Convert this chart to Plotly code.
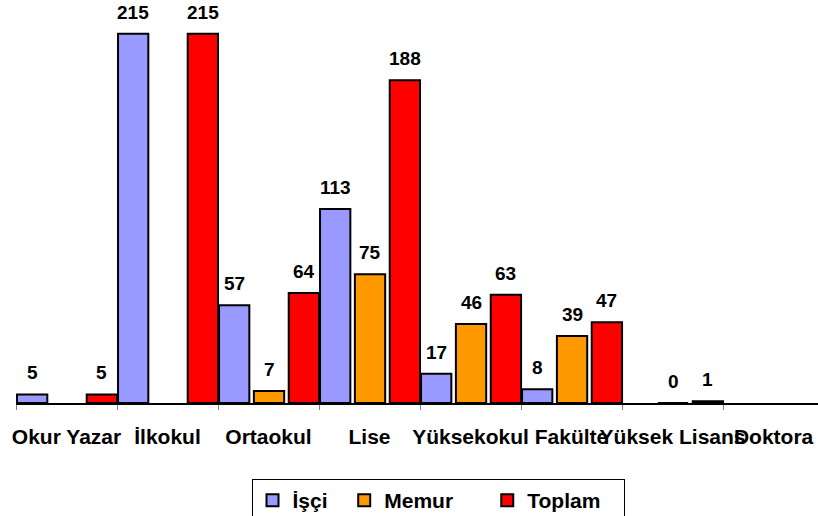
import plotly.graph_objects as go

categories = ["Okur Yazar", "İlkokul", "Ortaokul", "Lise", "Yüksekokul", "Fakülte", "Yüksek Lisans", "Doktora"]
isci = [5, 215, 57, 113, 17, 8, None, None]
memur = [None, None, 7, 75, 46, 39, 0, None]
toplam = [5, 215, 64, 188, 63, 47, 1, None]

nb = "\u00a0"
series = [
    ("İşçi", isci, "#9999FF", -0.49, 2),
    ("Memur", memur, "#FF9900", -0.145, 5),
    ("Toplam", toplam, "#FF0000", 0.2, 3),
]
bar_w = 0.3
font = "Arial, Liberation Sans, sans-serif"

fig = go.Figure()
annotations = []
for name, vals, color, off, pad in series:
    fig.add_trace(go.Bar(
        x=categories, y=vals, name="<b>%s</b>%s" % (name, nb * pad),
        width=bar_w, offset=off,
        marker=dict(color=color, line=dict(color="black", width=2)),
    ))
    for i, v in enumerate(vals):
        if v is None:
            continue
        annotations.append(dict(
            x=i + off + bar_w / 2, y=v, xref="x", yref="y",
            text="<b>%d</b>" % v, showarrow=False,
            yanchor="bottom", yshift=9,
            font=dict(family=font, size=19, color="black"),
        ))

fig.update_layout(
    width=818, height=516,
    margin=dict(l=16, r=0, t=0, b=113, autoexpand=False),
    barmode="overlay",
    plot_bgcolor="white", paper_bgcolor="white",
    font=dict(family=font, color="black"),
    annotations=annotations,
    legend=dict(
        orientation="h",
        xref="container", yref="container",
        x=438 / 818, xanchor="center", y=1 - 479 / 516, yanchor="top",
        bordercolor="black", borderwidth=1,
        font=dict(family=font, size=21, color="black"),
        itemwidth=30, tracegroupgap=0,
    ),
)
fig.update_xaxes(
    type="category", automargin=False,
    range=[-0.5, 7.44],
    showline=True, linecolor="black", linewidth=1.5,
    ticks="outside", tickson="boundaries", ticklen=5, tickcolor="#808080",
    tickangle=0, ticklabelstandoff=14,
    tickfont=dict(family=font, size=21, color="black"),
    ticktext=["<b>%s</b>" % c for c in categories], tickvals=categories,
    showgrid=False,
)
fig.update_yaxes(range=[0, 234.7], visible=False, showgrid=False, automargin=False)

# drop the default 8px body margin so the chart sits at the page corner
fig.write_html("out.html", config={"displayModeBar": False},
               post_script="document.body.style.margin='0';")
